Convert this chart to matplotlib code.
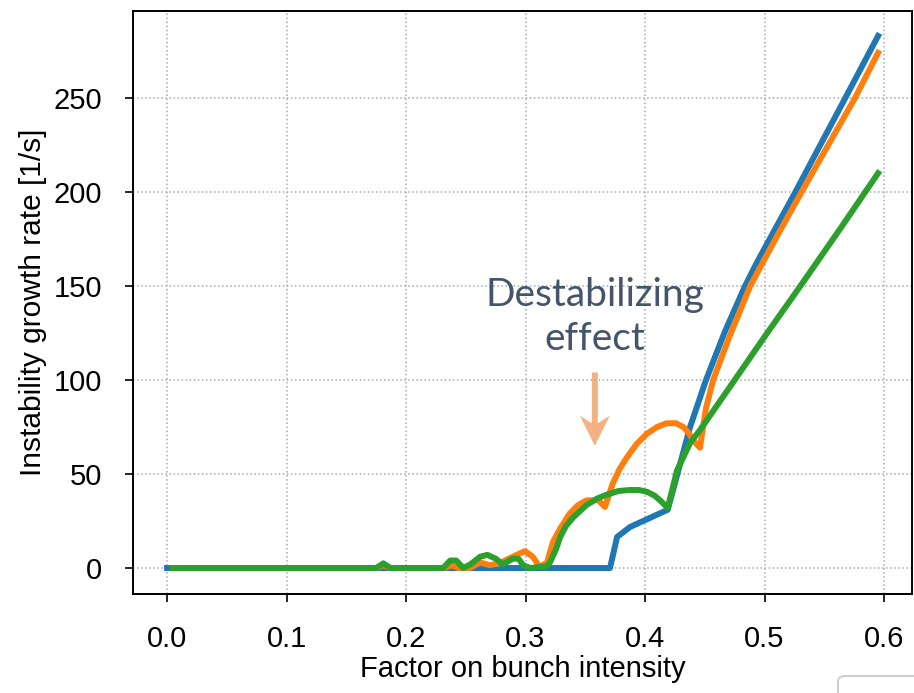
import matplotlib
matplotlib.use("Agg")
import matplotlib.pyplot as plt
from matplotlib.patches import FancyBboxPatch

# blue curve
x_blue = [0.0, 0.3707, 0.3766, 0.3874, 0.419, 0.4377, 0.451, 0.467, 0.4837, 0.492, 0.5,
          0.525, 0.545, 0.568, 0.595]
y_blue = [0.0, 0.0, 16.5, 21.8, 31.0, 75.0, 100.0, 126.0, 150.0, 160.5, 170.0,
          199.0, 223.0, 250.5, 283.0]

# orange curve
x_orange = [0.005, 0.175, 0.181, 0.187, 0.232, 0.238, 0.244, 0.2535, 0.262, 0.27, 0.278,
            0.2925, 0.2996, 0.306, 0.312, 0.318, 0.323, 0.329, 0.337, 0.344, 0.351, 0.361,
            0.3665, 0.373, 0.379, 0.385, 0.393, 0.4017, 0.41, 0.418, 0.426, 0.432, 0.437,
            0.44, 0.446, 0.451, 0.457, 0.47, 0.488, 0.51, 0.531, 0.5757, 0.595]
y_orange = [0.0, 0.0, 1.5, 0.0, 0.0, 1.5, 0.0, 0.0, 3.0, 1.5, 2.5,
            7.0, 9.0, 6.0, 0.5, 3.0, 14.0, 21.0, 29.0, 33.5, 36.0, 36.0,
            32.5, 45.0, 53.0, 59.0, 66.0, 71.5, 75.0, 77.0, 77.0, 75.0, 71.5,
            68.0, 64.0, 85.0, 100.0, 122.0, 150.0, 176.0, 200.0, 250.0, 274.0]

# green curve
x_green = [0.005, 0.175, 0.181, 0.187, 0.231, 0.237, 0.242, 0.248, 0.254, 0.262, 0.268,
           0.275, 0.281, 0.2895, 0.294, 0.298, 0.304, 0.318, 0.3205, 0.3255, 0.329,
           0.334, 0.34, 0.351, 0.36, 0.368, 0.378, 0.3874, 0.395, 0.4017, 0.408,
           0.4126, 0.419, 0.4268, 0.4377, 0.446, 0.475, 0.5, 0.53, 0.565, 0.595]
y_green = [0.0, 0.0, 2.5, 0.0, 0.0, 4.0, 4.0, 0.0, 2.0, 6.0, 7.0,
           5.0, 2.0, 5.0, 5.0, 1.5, 0.0, 1.0, 3.0, 10.0, 16.5,
           22.5, 27.0, 33.5, 37.0, 39.0, 41.0, 41.5, 41.5, 40.5, 38.5,
           36.0, 32.0, 52.0, 66.5, 73.4, 100.0, 123.0, 150.0, 182.0, 210.0]

xticks = [0.0, 0.1, 0.2, 0.3, 0.4, 0.5, 0.6]
yticks = [0, 50, 100, 150, 200, 250]

plt.rcParams['font.family'] = ['Liberation Sans', 'DejaVu Sans']

fig = plt.figure(figsize=(9.14, 6.93), dpi=100)
ax = fig.add_axes([0.1455, 0.1429, 0.8523, 0.8413])

ax.plot(x_blue, y_blue, color='#1f77b4', lw=4.3)
ax.plot(x_orange, y_orange, color='#ff7f0e', lw=4.3)
ax.plot(x_green, y_green, color='#2ca02c', lw=4.3)

ax.set_xlim(-0.0285, 0.6234)
ax.set_ylim(-13.8, 296.3)
ax.set_xticks(xticks)
ax.set_xticklabels(['%.1f' % v for v in xticks])
ax.set_yticks(yticks)
ax.grid(True, linestyle=':', color='#aaaaaa', lw=1.1)
ax.tick_params(direction='out', length=6, width=1.2, labelsize=21, pad=16, colors='black')
for s in ax.spines.values():
    s.set_linewidth(1.4)

ax.set_xlabel('Factor on bunch intensity', fontsize=21, labelpad=2)
ax.set_ylabel('Instability growth rate [1/s]', fontsize=21.5, labelpad=5)

# annotation
ax.text(0.358, 133.5, 'Destabilizing\neffect', ha='center', va='center',
        fontsize=28, color='#44546A', family=['Lato', 'DejaVu Sans'], linespacing=1.25)
ax.arrow(0.358, 104, 0, -39, width=0.005, head_width=0.025, head_length=16,
         length_includes_head=True, overhang=0.25, color='#F4B183', lw=0)

# cut-off box in the lower right corner
box = FancyBboxPatch((838 / 914, -0.05), 0.2, 17 / 693 + 0.05,
                     boxstyle='round,pad=0,rounding_size=0.008',
                     transform=fig.transFigure, fc='white', ec='#d0d0d0', lw=1.5)
fig.patches.append(box)

fig.savefig('out.png', dpi=100)
